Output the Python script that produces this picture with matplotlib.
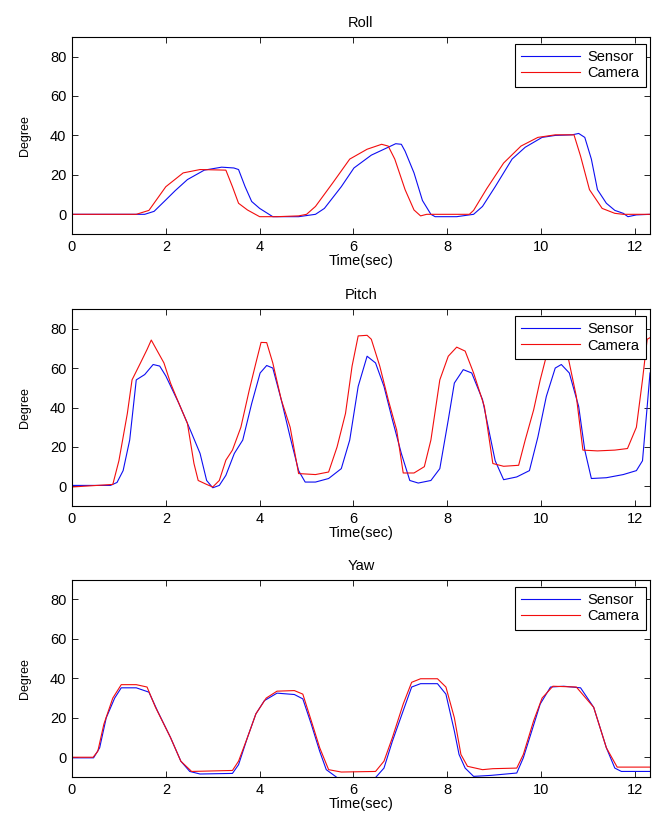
import matplotlib
matplotlib.use("Agg")
import matplotlib.pyplot as plt

plt.rcParams['font.family'] = ['Liberation Sans', 'DejaVu Sans']

# ---- Roll ----
roll_sensor_t = [0, 1.55, 1.75, 2.0, 2.2, 2.46, 2.82, 3.19, 3.45, 3.55, 3.69, 3.83, 4.0, 4.28, 4.83, 5.19, 5.38,
                 5.74, 6.01, 6.38, 6.74, 6.9, 7.02, 7.1, 7.29, 7.47, 7.65, 7.74, 8.2, 8.56, 8.75,
                 9.02, 9.38, 9.66, 10.02, 10.3, 10.66, 10.8, 10.93, 11.07, 11.2, 11.39, 11.57,
                 11.75, 11.85, 12.03, 12.32]
roll_sensor_y = [0, 0, 1.5, 7.3, 12, 17.6, 22.4, 23.9, 23.5, 22.7, 14, 6.5, 3, -1.2, -1.2, 0, 3,
                 14, 23.5, 30, 34, 35.8, 35.5, 32, 21, 7, 0, -1.2, -1.2, 0, 4,
                 14, 28, 34, 39, 40, 40.3, 41, 39, 28, 12.5, 5.6, 2,
                 0.5, -1.2, -0.3, 0]
roll_camera_t = [0, 1.37, 1.64, 2.0, 2.37, 2.73, 3.28, 3.42, 3.55, 3.74, 4.0, 4.37, 4.83, 5.0,
                 5.19, 5.56, 5.92, 6.29, 6.6, 6.74, 6.88, 7.1, 7.29, 7.43, 7.56, 8.47, 8.56,
                 8.84, 9.2, 9.57, 9.93, 10.3, 10.7, 10.84, 11.03, 11.3, 11.57, 11.75, 12.32]
roll_camera_y = [0, 0, 2, 14, 21, 22.7, 22.4, 14, 5.6, 2.2, -1.2, -1.2, -0.8, 0,
                 4, 16, 28, 33, 35.5, 34.6, 28, 12.5, 2.2, -0.8, 0, 0, 2,
                 13, 26, 34.6, 39, 40.3, 40.3, 29.5, 12.5, 3, 0.5, 0, 0]

# ---- Pitch ----
pitch_sensor_t = [0, 0.82, 0.96, 1.09, 1.23, 1.37, 1.55, 1.73, 1.87, 2.0, 2.28, 2.55, 2.73,
                  2.87, 3.0, 3.14, 3.28, 3.46, 3.64, 3.83, 4.01, 4.15, 4.28, 4.46, 4.65, 4.83,
                  4.97, 5.19, 5.47, 5.74, 5.92, 6.1, 6.29, 6.47, 6.65, 6.83, 7.02, 7.2, 7.38,
                  7.65, 7.84, 8.02, 8.15, 8.34, 8.52, 8.75, 9.02, 9.2, 9.48, 9.75, 9.93,
                  10.11, 10.3, 10.43, 10.6, 10.8, 10.93, 11.07, 11.39, 11.75, 12.03, 12.16,
                  12.26, 12.32]
pitch_sensor_y = [0.5, 0.5, 2, 8, 23.5, 54, 56.7, 61.8, 61, 56, 42, 27, 16.7,
                  3, -0.7, 0.5, 5.6, 16.7, 23.5, 42, 57.5, 61.3, 60, 44, 25, 8,
                  2.2, 2.2, 4, 9, 23.5, 50.7, 66, 62.6, 50.7, 33.7, 16.7, 3, 1.7,
                  3, 9, 33.7, 52.4, 59.2, 57.5, 44, 13, 3.4, 4.8, 8, 25,
                  45.6, 60, 61.8, 57.5, 40.5, 18.4, 4, 4.4, 6, 8, 13,
                  40.5, 57.5]
pitch_camera_t = [0, 0.87, 1.0, 1.18, 1.28, 1.46, 1.6, 1.69, 1.82, 1.96, 2.1, 2.28, 2.46,
                  2.6, 2.69, 2.87, 3.0, 3.14, 3.28, 3.42, 3.6, 3.78, 3.92, 4.03, 4.15, 4.28,
                  4.46, 4.65, 4.83, 5.19, 5.47, 5.65, 5.83, 5.97, 6.1, 6.29, 6.38, 6.56,
                  6.74, 6.92, 7.06, 7.29, 7.51, 7.65, 7.84, 8.02, 8.2, 8.38, 8.56, 8.79,
                  8.97, 9.2, 9.52, 9.66, 9.84, 9.98, 10.11, 10.3, 10.57, 10.75, 10.89,
                  11.2, 11.57, 11.84, 12.03, 12.16, 12.26, 12.32]
pitch_camera_y = [-0.3, 1, 13, 37, 54, 62.6, 69.4, 74.2, 68.6, 62.6, 52.4, 42, 32,
                  11.6, 3, 1, -0.3, 3, 13.3, 18.4, 30, 49, 62.6, 73, 72.9, 62.6,
                  44, 30, 6.5, 6, 7.3, 20, 37, 61, 76.3, 76.6, 74.6, 61,
                  44, 28.6, 6.8, 6.8, 10, 23.5, 54, 66, 70.6, 68.6, 57.5, 40.5,
                  11.6, 10.2, 10.7, 23.5, 38.8, 54, 66, 70, 66, 45.6, 18.4,
                  18, 18.4, 19.2, 30, 54, 74.6, 75.4]

# ---- Yaw ----
yaw_sensor_t = [0, 0.46, 0.59, 0.73, 0.91, 1.05, 1.37, 1.64, 1.82, 2.1, 2.32, 2.51, 2.73,
                3.42, 3.55, 3.74, 3.92, 4.1, 4.37, 4.74, 4.92, 5.1, 5.28, 5.42, 5.65, 6.47,
                6.65, 6.83, 7.06, 7.24, 7.43, 7.79, 7.97, 8.15, 8.25, 8.38, 8.56, 8.93,
                9.48, 9.62, 9.8, 9.98, 10.2, 10.48, 10.84, 11.12, 11.39, 11.57, 11.71, 12.32]
yaw_sensor_y = [-0.3, -0.3, 4.8, 20, 30, 35.2, 35.2, 33, 23.6, 10, -2, -7.2, -8.5,
                -8.2, -3.8, 10, 22, 28.7, 32.5, 31.8, 29.6, 16.8, 3, -6.3, -10.3, -10.3,
                -5.5, 8.2, 23.6, 35.6, 37.3, 37.3, 32, 13.3, 1.4, -5.5, -9.7, -9.2,
                -8, -0.3, 13.3, 27, 35.6, 36, 35.2, 25.3, 4.8, -5.5, -7.2, -7.2]
yaw_camera_t = [0, 0.45, 0.55, 0.68, 0.87, 1.05, 1.37, 1.6, 1.78, 2.1, 2.32, 2.55, 3.42,
                3.55, 3.74, 3.92, 4.14, 4.37, 4.74, 4.92, 5.1, 5.28, 5.47, 5.74, 6.47,
                6.65, 6.83, 7.06, 7.24, 7.43, 7.79, 7.97, 8.15, 8.29, 8.43, 8.75, 8.97,
                9.48, 9.62, 9.84, 10.02, 10.25, 10.75, 11.12, 11.39, 11.62, 12.32]
yaw_camera_y = [0, 0, 3, 16.8, 30, 36.8, 36.8, 35.6, 25.3, 10, -2, -7.2, -6.7,
                -2, 10, 22, 30, 33.5, 33.8, 32, 18.5, 4.8, -6.3, -7.5, -7.2,
                -2, 10, 27, 38, 39.8, 39.8, 35.6, 20, 1.4, -4.6, -6.3, -5.8,
                -5.5, 1.4, 18.5, 30, 36, 35.6, 25.3, 4.8, -5, -5]

panels = [
    ("Roll", roll_sensor_t, roll_sensor_y, roll_camera_t, roll_camera_y, 0.717),
    ("Pitch", pitch_sensor_t, pitch_sensor_y, pitch_camera_t, pitch_camera_y, 0.388),
    ("Yaw", yaw_sensor_t, yaw_sensor_y, yaw_camera_t, yaw_camera_y, 0.0605),
]

fig = plt.figure(figsize=(6.69, 8.27), dpi=100)

for title, st, sy, ct, cy, bottom in panels:
    ax = fig.add_axes([0.1076, bottom, 0.864, 0.2385])
    ax.plot(st, sy, color=(0.05, 0.05, 0.95), lw=0.8, label="Sensor")
    ax.plot(ct, cy, color=(0.95, 0.05, 0.05), lw=0.8, label="Camera")
    ax.set_xlim(0, 12.32)
    ax.set_ylim(-10, 90)
    ax.set_xticks(range(0, 13, 2))
    ax.set_yticks(range(0, 81, 20))
    ax.tick_params(direction="in", top=True, right=True, length=4.5, width=0.6,
                   labelsize=10.5, pad=4)
    for s in ax.spines.values():
        s.set_linewidth(0.8)
    ax.set_title(title, fontsize=10.5, pad=7)
    ax.set_xlabel("Time(sec)", fontsize=10.5, labelpad=0)
    ax.set_ylabel("Degree", fontsize=9, labelpad=14)
    leg = ax.legend(loc="upper right", bbox_to_anchor=(0.9925, 0.965),
                    borderaxespad=0, fontsize=10.5, handlelength=4.0,
                    handletextpad=0.5, fancybox=False, framealpha=1,
                    edgecolor="black", labelspacing=0.15, borderpad=0.45)
    leg.get_frame().set_linewidth(0.8)

fig.savefig("out.png", dpi=100)
